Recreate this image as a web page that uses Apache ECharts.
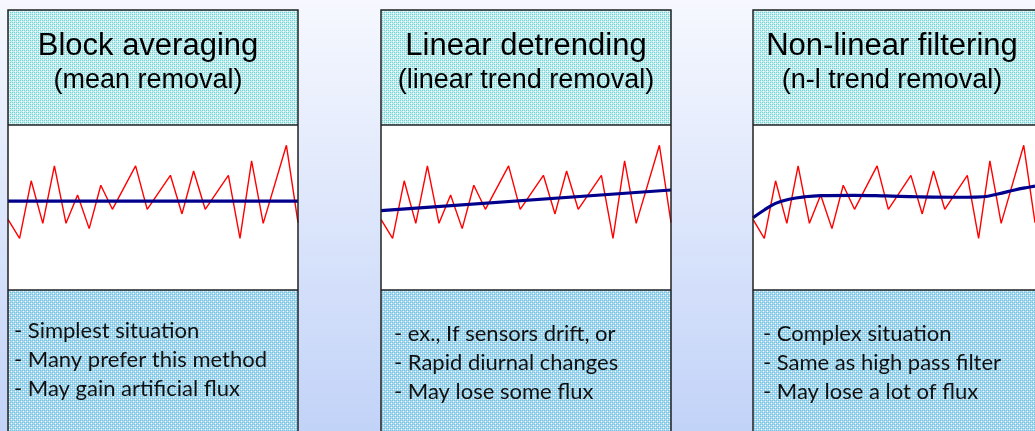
<!DOCTYPE html>
<html>
<head>
<meta charset="utf-8">
<script src="https://cdn.jsdelivr.net/npm/echarts@6/dist/echarts.min.js"></script>
<style>
  html, body { margin: 0; padding: 0; }
  #main { width: 1035px; height: 431px; }
</style>
</head>
<body>
<div id="main"></div>
<script>
// raw signal (same in all three panels), x = sample index
var sigX = [0, 1, 2, 3, 4, 5, 6, 7, 8, 9, 11, 12, 14, 15, 16, 17, 19, 20, 21, 22, 24, 25];
var sigY = [4.28, 3.13, 6.62, 4.04, 7.52, 4.04, 5.76, 3.72, 6.35, 4.89, 7.52, 4.89, 6.95, 4.61, 7.21, 4.89, 6.95, 3.13, 7.82, 4.04, 8.77, 4.08];

// trend lines
var meanX = [0, 25];
var meanY = [5.39, 5.39];
var linX = [0, 25];
var linY = [4.81, 6.06];
var nlX = [0, 1, 2, 3.2, 4.6, 6, 8.9, 11.8, 14.6, 18.9, 20.4, 21.7, 23.2, 24.2, 25];
var nlY = [4.38, 4.85, 5.25, 5.5, 5.65, 5.72, 5.74, 5.7, 5.65, 5.62, 5.65, 5.82, 6.06, 6.2, 6.3];

var titles = ['Block averaging', 'Linear detrending', 'Non-linear filtering'];
var subtitles = ['(mean removal)', '(linear trend removal)', '(n-l trend removal)'];
var notes = [
  ['- Simplest situation', '- Many prefer this method', '- May gain artificial flux'],
  ['- ex., If sensors drift, or', '- Rapid diurnal changes', '- May lose some flux'],
  ['- Complex situation', '- Same as high pass filter', '- May lose a lot of flux']
];

function pairs(xs, ys) {
  return xs.map(function (x, i) { return [x, ys[i]]; });
}

// small tiles for the dotted fills
function tile(base, dot) {
  var c = document.createElement('canvas');
  c.width = 4; c.height = 4;
  var g = c.getContext('2d');
  g.fillStyle = base; g.fillRect(0, 0, 4, 4);
  g.fillStyle = dot;
  g.fillRect(0, 0, 1, 1); g.fillRect(2, 0, 1, 1);
  g.fillRect(0, 2, 1, 1); g.fillRect(2, 2, 1, 1);
  g.fillStyle = '#ffffff';
  g.fillRect(1, 1, 1, 1); g.fillRect(3, 3, 1, 1);
  return c;
}
var headFill = { image: tile('#c4eded', '#74d2d8'), repeat: 'repeat' };
var footFill = { image: tile('#a9d7f2', '#74c8de'), repeat: 'repeat' };

var panelLeft = [8, 381, 753];
var panelW = 290;
var topY = 10, headH = 115, chartH = 165;
var trends = [pairs(meanX, meanY), pairs(linX, linY), pairs(nlX, nlY)];
var noteX = [14, 394, 763];
var titleShift = [-5, 0, -6];

var grids = [], xAxes = [], yAxes = [], series = [], graphics = [];
panelLeft.forEach(function (l, i) {
  grids.push({ left: l, top: topY + headH, width: panelW, height: chartH });
  xAxes.push({ type: 'value', gridIndex: i, min: 0, max: 25, show: false });
  yAxes.push({ type: 'value', gridIndex: i, min: 0, max: 10, show: false });
  series.push({
    type: 'line', xAxisIndex: i, yAxisIndex: i, data: pairs(sigX, sigY),
    showSymbol: false, lineStyle: { color: '#ff0000', width: 1.4 }, z: 3
  });
  series.push({
    type: 'line', xAxisIndex: i, yAxisIndex: i, data: trends[i],
    showSymbol: false, smooth: i === 2 ? 0.4 : false,
    lineStyle: { color: '#00008c', width: 3.2 }, z: 4
  });

  // boxes
  graphics.push({ type: 'rect', z: 0, shape: { x: l, y: topY, width: panelW, height: headH }, style: { fill: headFill } });
  graphics.push({ type: 'rect', z: 0, shape: { x: l, y: topY + headH, width: panelW, height: chartH }, style: { fill: '#ffffff' } });
  graphics.push({ type: 'rect', z: 0, shape: { x: l, y: topY + headH + chartH, width: panelW, height: 160 }, style: { fill: footFill } });
  graphics.push({ type: 'rect', z: 10, shape: { x: l, y: topY, width: panelW, height: 450 }, style: { fill: null, stroke: '#222', lineWidth: 1.5 } });
  graphics.push({ type: 'line', z: 10, shape: { x1: l, y1: topY + headH, x2: l + panelW, y2: topY + headH }, style: { stroke: '#222', lineWidth: 1.5 } });
  graphics.push({ type: 'line', z: 10, shape: { x1: l, y1: topY + headH + chartH, x2: l + panelW, y2: topY + headH + chartH }, style: { stroke: '#222', lineWidth: 1.5 } });

  // header texts
  var cx = l + panelW / 2 + titleShift[i];
  graphics.push({ type: 'text', z: 11, x: cx, y: 46, style: {
    text: titles[i], font: '31px "Liberation Sans", Arial, sans-serif', fill: '#000', align: 'center', verticalAlign: 'middle' } });
  graphics.push({ type: 'text', z: 11, x: cx, y: 81, style: {
    text: subtitles[i], font: '27px "Liberation Sans", Arial, sans-serif', fill: '#000', align: 'center', verticalAlign: 'middle' } });

  // notes
  notes[i].forEach(function (t, k) {
    graphics.push({ type: 'text', z: 11, x: noteX[i], y: [332, 361, 390][k] + (i === 0 ? -1 : 2), style: {
      text: t, font: '22px Lato, "Open Sans", sans-serif', fill: '#111', align: 'left', verticalAlign: 'middle' } });
  });
});

var myChart = echarts.init(document.getElementById('main'));
myChart.setOption({
  backgroundColor: {
    type: 'linear', x: 0, y: 0, x2: 0, y2: 1,
    colorStops: [{ offset: 0, color: '#f6f8fe' }, { offset: 1, color: '#c2d3f8' }]
  },
  animation: false,
  grid: grids,
  xAxis: xAxes,
  yAxis: yAxes,
  series: series,
  graphic: graphics
});
</script>
</body>
</html>
